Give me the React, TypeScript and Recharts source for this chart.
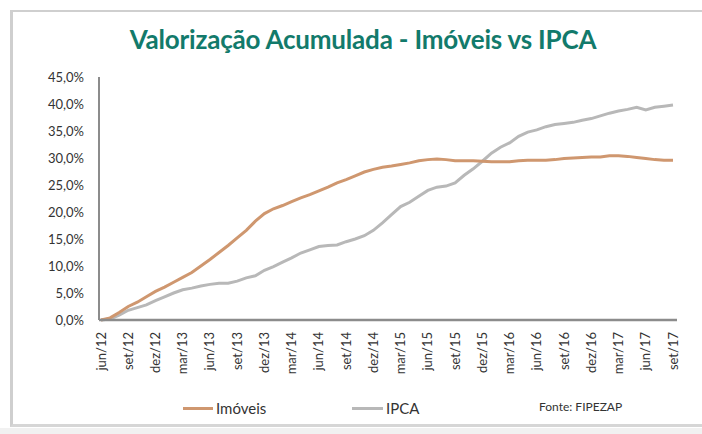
import React from 'react';
import { CartesianGrid, Line, LineChart, XAxis, YAxis } from 'recharts';

const MESES = ['jan', 'fev', 'mar', 'abr', 'mai', 'jun', 'jul', 'ago', 'set', 'out', 'nov', 'dez'];

// jun/12 .. set/17, mensal
const months: string[] = [];
for (let y = 12; y <= 17; y++) {
  for (let m = 0; m < 12; m++) {
    if (y === 12 && m < 5) continue;
    if (y === 17 && m > 8) continue;
    months.push(`${MESES[m]}/${y}`);
  }
}

const imoveis = [
  0, 0.4, 1.4, 2.5, 3.3, 4.3, 5.3, 6.1, 7.0, 7.9,
  8.8, 10.0, 11.2, 12.5, 13.8, 15.2, 16.6, 18.3, 19.7, 20.6,
  21.2, 21.9, 22.6, 23.2, 23.9, 24.6, 25.4, 26.0, 26.7, 27.4,
  27.9, 28.3, 28.5, 28.8, 29.1, 29.5, 29.7, 29.8, 29.7, 29.5,
  29.5, 29.5, 29.4, 29.3, 29.3, 29.3, 29.5, 29.6, 29.6, 29.6,
  29.7, 29.9, 30.0, 30.1, 30.2, 30.2, 30.4, 30.4, 30.3, 30.1,
  29.9, 29.7, 29.6, 29.6,
];

const ipca = [
  0, 0.2, 0.9, 1.8, 2.3, 2.8, 3.6, 4.3, 5.0, 5.6,
  5.9, 6.3, 6.6, 6.8, 6.8, 7.2, 7.8, 8.2, 9.2, 9.9,
  10.7, 11.5, 12.4, 13.0, 13.6, 13.8, 13.9, 14.5, 15.0, 15.6,
  16.6, 18.0, 19.5, 21.0, 21.8, 22.9, 24.0, 24.6, 24.8, 25.4,
  26.8, 28.0, 29.4, 30.9, 32.0, 32.8, 34.0, 34.8, 35.2, 35.8,
  36.2, 36.4, 36.6, 37.0, 37.3, 37.8, 38.3, 38.7, 39.0, 39.4,
  38.9, 39.4, 39.6, 39.8,
];

const yTicks = [0, 5, 10, 15, 20, 25, 30, 35, 40, 45];

const data = months.map((m, i) => ({ month: m, imoveis: imoveis[i], ipca: ipca[i] }));

const FONT = 'Lato, "Open Sans", sans-serif';
const ORANGE = '#CF976F';
const GRAY = '#B8B8B8';
const TEAL = '#127a6b';

const fmtPct = (v: number) => `${v.toFixed(1).replace('.', ',')}%`;

function MonthTick(props: any) {
  const { x, y, payload } = props;
  return (
    <text
      x={x}
      y={y}
      transform={`rotate(-90, ${x}, ${y})`}
      textAnchor="end"
      dy="0.35em"
      fontSize={13}
      fontFamily={FONT}
      fill="#333"
    >
      {payload.value}
    </text>
  );
}

export default function App() {
  return (
    <div style={{ position: 'absolute', left: 0, top: 0, width: 702, height: 434, background: '#fff', overflow: 'hidden', fontFamily: FONT }}>
      <div
        style={{
          position: 'absolute',
          left: 10,
          top: 10,
          width: 720,
          height: 412,
          borderTop: '2px solid #cfcfcf',
          borderLeft: '3px solid #cfcfcf',
          borderBottom: '3px solid #d6d6d6',
        }}
      />
      <div style={{ position: 'absolute', left: 0, top: 428, width: 702, height: 6, background: '#f1f1f1' }} />

      <div
        style={{
          position: 'absolute',
          left: 0,
          top: 23,
          width: 726,
          textAlign: 'center',
          color: TEAL,
          fontWeight: 700,
          fontSize: 26,
          letterSpacing: -0.2,
        }}
      >
        Valorização Acumulada - Imóveis vs IPCA
      </div>

      <div style={{ position: 'absolute', left: 0, top: 0 }}>
        <LineChart width={702} height={434} data={data} margin={{ top: 77, right: 25, left: 0, bottom: 0 }}>
          <CartesianGrid vertical={false} horizontal={false} />
          <XAxis
            dataKey="month"
            interval={2}
            height={114}
            tickLine={false}
            tickSize={0}
            tickMargin={12}
            stroke="#8c8c8c"
            strokeWidth={2.5}
            padding={{ left: 2, right: 4 }}
            tick={<MonthTick />}
          />
          <YAxis
            domain={[0, 45]}
            ticks={yTicks}
            width={99}
            tickLine={false}
            tickSize={0}
            tickMargin={15}
            stroke="#8c8c8c"
            strokeWidth={2}
            tickFormatter={fmtPct}
            tick={{ fontSize: 13, fill: '#333', fontFamily: FONT }}
          />
          <Line
            type="linear"
            dataKey="ipca"
            name="IPCA"
            stroke={GRAY}
            strokeWidth={3}
            dot={false}
            isAnimationActive={false}
          />
          <Line
            type="linear"
            dataKey="imoveis"
            name="Imóveis"
            stroke={ORANGE}
            strokeWidth={3}
            dot={false}
            isAnimationActive={false}
          />
        </LineChart>
      </div>

      <div style={{ position: 'absolute', left: 183, top: 399, display: 'flex', alignItems: 'center', fontSize: 15, color: '#333' }}>
        <span style={{ display: 'inline-block', width: 30, height: 3, background: ORANGE, marginRight: 3 }} />
        Imóveis
      </div>
      <div style={{ position: 'absolute', left: 352, top: 399, display: 'flex', alignItems: 'center', fontSize: 15, color: '#333' }}>
        <span style={{ display: 'inline-block', width: 31, height: 3, background: GRAY, marginRight: 3 }} />
        IPCA
      </div>
      <div style={{ position: 'absolute', left: 539, top: 399, fontSize: 12, color: '#333' }}>Fonte: FIPEZAP</div>
    </div>
  );
}
